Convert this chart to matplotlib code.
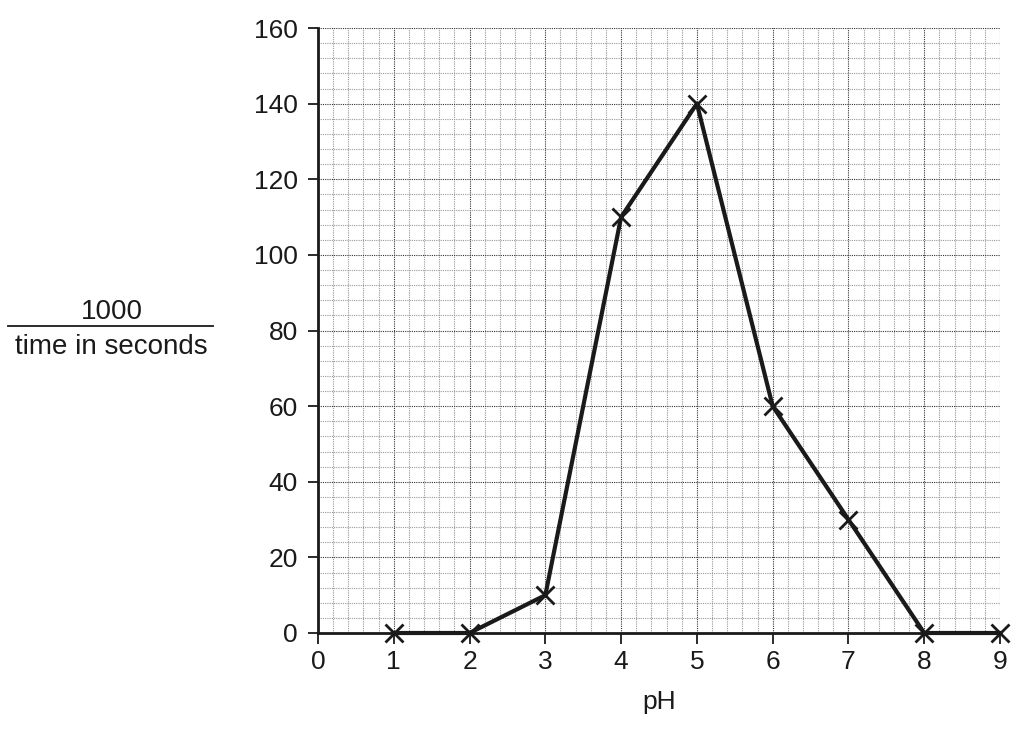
import matplotlib
matplotlib.use("Agg")
import matplotlib.pyplot as plt
import numpy as np

plt.rcParams['font.family'] = ['Liberation Sans', 'DejaVu Sans']

ph = [1, 2, 3, 4, 5, 6, 7, 8, 9]
rate = [0, 0, 10, 110, 140, 60, 30, 0, 0]
x_ticks = list(range(0, 10))
y_ticks = list(range(0, 161, 20))

fig = plt.figure(figsize=(10.16, 7.31), dpi=100)
ax = fig.add_axes([318/1016, 98/731, 682/1016, 605/731])
ax.set_xlim(0, 9)
ax.set_ylim(0, 160)

# grid
for xv in np.arange(0.2, 9.001, 0.2):
    major = abs(xv - round(xv)) < 1e-6
    ax.axvline(xv, color='#333333' if major else '#999999', lw=0.8, ls=(0, (1, 1)), zorder=1)
for yv in np.arange(4, 160.001, 4):
    major = abs(yv/20 - round(yv/20)) < 1e-6
    ax.axhline(yv, color='#333333' if major else '#999999', lw=0.8, ls=(0, (1, 1)), zorder=1)

ax.plot(ph, rate, color='#1a1a1a', lw=3.0, marker='x', markersize=13, mew=2.0, zorder=3, clip_on=False)

ax.spines['top'].set_visible(False)
ax.spines['right'].set_visible(False)
for s in ('left', 'bottom'):
    ax.spines[s].set_linewidth(2.0)
    ax.spines[s].set_color('#1a1a1a')
ax.set_xticks(x_ticks)
ax.set_yticks(y_ticks)
ax.tick_params(axis='both', labelsize=19, colors='#1a1a1a', width=1.3)
ax.tick_params(axis='y', length=7.5, pad=7)
ax.tick_params(axis='x', length=8, pad=4)
ax.set_xlabel('pH', fontsize=19, labelpad=12, color='#1a1a1a')

fig.text(112/1016, 1 - 312/731, '1000', ha='center', va='center', fontsize=20, color='#1a1a1a')
fig.text(111/1016, 1 - 347/731, 'time in seconds', ha='center', va='center', fontsize=20, color='#1a1a1a')
fig.add_artist(plt.Line2D([8/1016, 213/1016], [1 - 326/731, 1 - 326/731], color='#1a1a1a', lw=1.3))

fig.savefig('out.png', dpi=100)
